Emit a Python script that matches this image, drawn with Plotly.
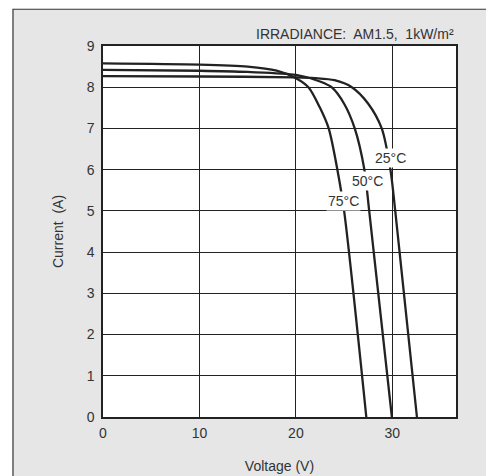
import plotly.graph_objects as go

# Data
v_25 = [0, 10, 20, 22, 24, 25.8, 27.5, 28.9, 29.8, 30.3, 32.55]
i_25 = [8.27, 8.26, 8.24, 8.22, 8.17, 8.0, 7.6, 7.0, 6.0, 5.0, 0]
v_50 = [0, 10, 15, 20, 22.5, 23.7, 25.0, 26.1, 27.1, 27.6, 29.95]
i_50 = [8.42, 8.40, 8.37, 8.30, 8.14, 8.0, 7.6, 7.0, 6.0, 5.0, 0]
v_75 = [0, 10, 15, 18, 20, 21.3, 22.5, 23.4, 24.3, 25.0, 27.3]
i_75 = [8.58, 8.55, 8.50, 8.40, 8.22, 8.0, 7.5, 7.0, 6.0, 5.0, 0]
labels = ["25°C", "50°C", "75°C"]
label_v = [29.8, 27.4, 24.9]
label_i = [6.28, 5.73, 5.25]
x_ticks = [0, 10, 20, 30]
y_ticks = [0, 1, 2, 3, 4, 5, 6, 7, 8, 9]

FONT = "Liberation Sans, Arial, Helvetica, sans-serif"
INK = "#222222"

fig = go.Figure()
for v, i in [(v_25, i_25), (v_50, i_50), (v_75, i_75)]:
    fig.add_trace(go.Scatter(x=v, y=i, mode="lines",
                             line=dict(color=INK, width=2.3, shape="spline", smoothing=0.8),
                             showlegend=False, hoverinfo="skip"))

for t, x, y in zip(labels, label_v, label_i):
    fig.add_annotation(x=x, y=y, text=t, showarrow=False, xref="x", yref="y",
                       bgcolor="white", borderpad=1,
                       font=dict(family=FONT, size=14, color="#333333"))

fig.add_annotation(x=1, y=1, xref="paper", yref="paper", xanchor="right", yanchor="bottom",
                   yshift=2, text="IRRADIANCE:  AM1.5,  1kW/m²", showarrow=False,
                   font=dict(family=FONT, size=14, color="#333333"))

# Grey panel behind everything, white plot area
fig.add_shape(type="rect", xref="paper", yref="paper", x0=-0.255, x1=1.25, y0=-0.25, y1=1.099,
              fillcolor="#e6e6e6", line=dict(color="#333333", width=1.2), layer="below")
fig.add_shape(type="rect", xref="paper", yref="paper", x0=0, x1=1, y0=0, y1=1,
              fillcolor="white", line=dict(width=0), layer="below")

fig.update_layout(
    width=494, height=476,
    margin=dict(l=95, r=46, t=38, b=64),
    paper_bgcolor="white", plot_bgcolor="rgba(0,0,0,0)",
    font=dict(family=FONT, size=14, color="#333333"),
)
fig.update_xaxes(range=[0, 36.6], tickvals=x_ticks, showgrid=True, gridcolor=INK, gridwidth=1.3,
                 showline=True, linecolor=INK, linewidth=1.5, mirror=True, zeroline=False,
                 ticks="", ticklabelstandoff=2,
                 title=dict(text="Voltage (V)", standoff=22, font=dict(size=14)),
                 tickfont=dict(size=14))
fig.update_yaxes(range=[0, 9], tickvals=y_ticks, showgrid=True, gridcolor=INK, gridwidth=1.3,
                 showline=True, linecolor=INK, linewidth=1.5, mirror=True, zeroline=False,
                 ticks="", ticklabelstandoff=4,
                 title=dict(text="Current  (A)", standoff=20, font=dict(size=14)),
                 tickfont=dict(size=14))

fig.write_html("out.html")
